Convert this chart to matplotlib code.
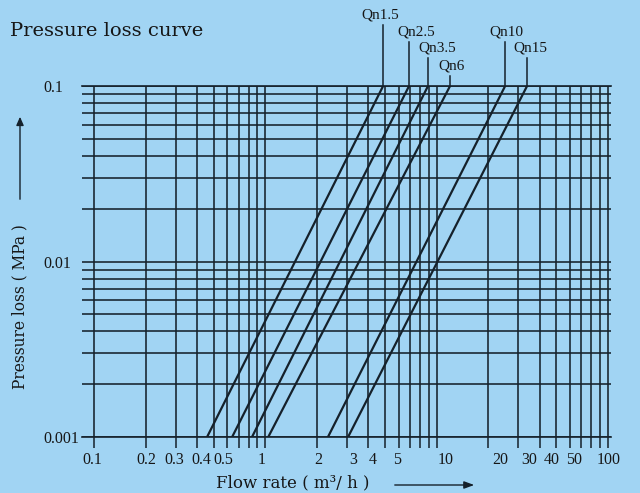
import numpy as np
import matplotlib
matplotlib.use("Agg")
import matplotlib.pyplot as plt
from matplotlib.transforms import ScaledTranslation
from matplotlib.ticker import FixedLocator, NullFormatter

# ---- data ----
series_names = ["Qn1.5", "Qn2.5", "Qn3.5", "Qn6", "Qn10", "Qn15"]
flow_at_low = [0.457, 0.64, 0.836, 1.04, 2.32, 3.04]     # m3/h at 0.001 MPa
flow_at_high = [4.87, 6.9, 8.9, 11.97, 25.1, 33.7]        # m3/h at 0.1 MPa
pressure_ends = [0.001, 0.1]
x_tick_values = [0.1, 0.2, 0.3, 0.4, 0.5, 1, 2, 3, 4, 5, 10, 20, 30, 40, 50, 100]
x_tick_labels = ["0.1", "0.2", "0.3", "0.4", "0.5", "1", "2", "3", "4", "5",
                 "10", "20", "30", "40", "50", "100"]
y_tick_values = [0.001, 0.01, 0.1]
y_tick_labels = ["0.001", "0.01", "0.1"]

W, H = 640, 493
BG = "#a1d4f3"
INK = "#15212b"
TXT = "#161616"
plt.rcParams['font.family'] = ['Liberation Serif', 'DejaVu Serif']

fig = plt.figure(figsize=(W / 100, H / 100), dpi=100, facecolor=BG)
ax = fig.add_axes([82 / W, 1 - 437 / H, (611 - 82) / W, (437 - 86) / H])
ax.set_facecolor(BG)
ax.set_xscale("log")
ax.set_yscale("log")
xl = 0.1 * 10 ** (-12 / 171.3)
xr = 100 * 10 ** (3 / 171.3)
ax.set_xlim(xl, xr)
ax.set_ylim(0.001, 0.1)

# grid
xs = [m * 10.0 ** e for e in (-1, 0, 1) for m in range(1, 10)] + [100]
for xv in xs:
    ax.axvline(xv, color=INK, lw=1.15, zorder=1)
ys = [m * 10.0 ** e for e in (-3, -2) for m in range(1, 10)] + [0.1]
for yv in ys:
    ax.axhline(yv, color=INK, lw=1.15, zorder=1)

for s in ("left", "right"):
    ax.spines[s].set_visible(False)
for s in ("top", "bottom"):
    ax.spines[s].set_color(INK)
    ax.spines[s].set_linewidth(1.2)

ax.set_xticks(x_tick_values)
ax.set_xticklabels(x_tick_labels)
ax.xaxis.set_minor_locator(FixedLocator(xs))
ax.xaxis.set_minor_formatter(NullFormatter())
ax.set_yticks(y_tick_values)
ax.set_yticklabels(y_tick_labels)
ax.yaxis.set_minor_locator(matplotlib.ticker.NullLocator())
ax.tick_params(axis="x", which="both", direction="out", length=8, width=1.1,
               color=INK, labelsize=11.5, pad=3, labelcolor=TXT)
ax.tick_params(axis="y", length=0, labelsize=11.5, pad=28, labelcolor=TXT)
for lab in ax.get_yticklabels():
    lab.set_horizontalalignment("left")

# x tick labels sit a little off their ticks in the reference
label_shift_px = [-2, 1, -1, 4, 10, -4, 1, 6, 4, 12, 9, 12, 11, 12, 18, 1]
for lab, dx in zip(ax.get_xticklabels(), label_shift_px):
    lab.set_transform(lab.get_transform() +
                      ScaledTranslation(dx / 100, 0, fig.dpi_scale_trans))

# series lines
for name, q0, q1 in zip(series_names, flow_at_low, flow_at_high):
    ax.plot([q0, q1], pressure_ends, color=INK, lw=1.6, zorder=3,
            solid_capstyle="round")

# labels with leaders: (text dx from leader, text centre y, leader top y) in px
label_layout = {
    "Qn1.5": (-3, 15, 25),
    "Qn2.5": (7, 32, 42),
    "Qn3.5": (9, 48, 58),
    "Qn6": (2, 66, 76),
    "Qn10": (1, 32, 42),
    "Qn15": (3, 48, 58),
}
for name, q1 in zip(series_names, flow_at_high):
    dx, ty, ly = label_layout[name]
    xt, yd = ax.transData.transform((q1, 0.1))
    fig.add_artist(plt.Line2D([xt / W, xt / W], [yd / H, 1 - ly / H],
                              color=INK, lw=1.1, transform=fig.transFigure))
    fig.text((xt + dx) / W, 1 - ty / H, name, ha="center", va="center",
             fontsize=11, color=TXT)

fig.text(10 / W, 1 - 31 / H, "Pressure loss curve", ha="left", va="center",
         fontsize=14, color=TXT, family=["DejaVu Serif"])

# axis titles with arrows
fig.text(20 / W, 1 - 307 / H, "Pressure loss ( MPa )", rotation=90,
         ha="center", va="center", fontsize=11.2, color=TXT,
         family=["DejaVu Serif"])
fig.add_artist(matplotlib.patches.FancyArrowPatch(
    (20 / W, 1 - 202 / H), (20 / W, 1 - 114 / H), transform=fig.transFigure,
    arrowstyle="-|>,head_length=5,head_width=2.2", color=INK, lw=1.0))
fig.text(293 / W, 1 - 483 / H, "Flow rate ( m³/ h )", ha="center",
         va="center", fontsize=12, color=TXT, family=["DejaVu Serif"])
fig.add_artist(matplotlib.patches.FancyArrowPatch(
    (392 / W, 1 - 485 / H), (477 / W, 1 - 485 / H), transform=fig.transFigure,
    arrowstyle="-|>,head_length=6,head_width=2.2", color=INK, lw=1.0))

fig.savefig("out.png", dpi=100, facecolor=BG)
